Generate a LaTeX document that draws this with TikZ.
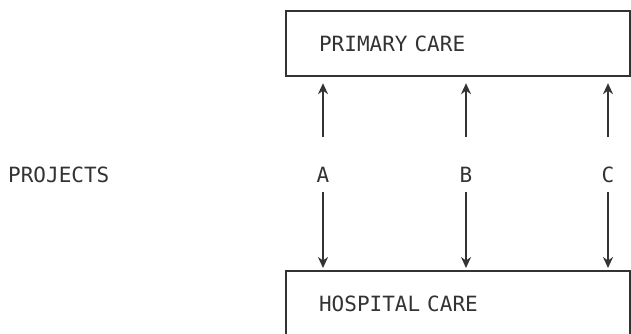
\documentclass[tikz,border=0pt]{standalone}
\usepackage{fontspec}
\setmonofont{DejaVu Sans Mono}
\usetikzlibrary{positioning,arrows.meta,calc}
\definecolor{inkgray}{HTML}{333333}
\tikzset{
  carebox/.style={draw=inkgray, line width=2.2pt, anchor=north west, align=left,
                  font=\ttfamily\fontsize{21}{25}\selectfont, text=inkgray,
                  inner xsep=33pt, text width=278pt},
  proj/.style={font=\ttfamily\fontsize{21}{25}\selectfont, text=inkgray, inner sep=0pt},
  flow/.style={-{Stealth[length=11pt,width=10pt]}, line width=1.8pt, draw=inkgray},
}
\begin{document}
\begin{tikzpicture}[x=1pt,y=-1pt]
\clip (0,0) rectangle (631,333);
\fill[white] (0,0) rectangle (631,333);
\node[carebox, minimum width=344pt, minimum height=65pt] (primary) at (285,10) {PRIMARY CARE};
\node[carebox, minimum width=343pt, minimum height=66pt] (hospital) at (285,270) {HOSPITAL CARE};
\node[proj, anchor=west] (projects) at (8,175) {PROJECTS};
\node[proj] (A) at (323,175) {A};
\node[proj] (B) at (466,175) {B};
\node[proj] (C) at (608,175) {C};
\foreach \p in {A,B,C} {
  \draw[flow, shorten <=30pt, shorten >=6pt] (\p.north) -- (\p.north |- primary.south);
  \draw[flow, shorten <=9pt, shorten >=2pt] (\p.south) -- (\p.south |- hospital.north);
}
\end{tikzpicture}
\end{document}
